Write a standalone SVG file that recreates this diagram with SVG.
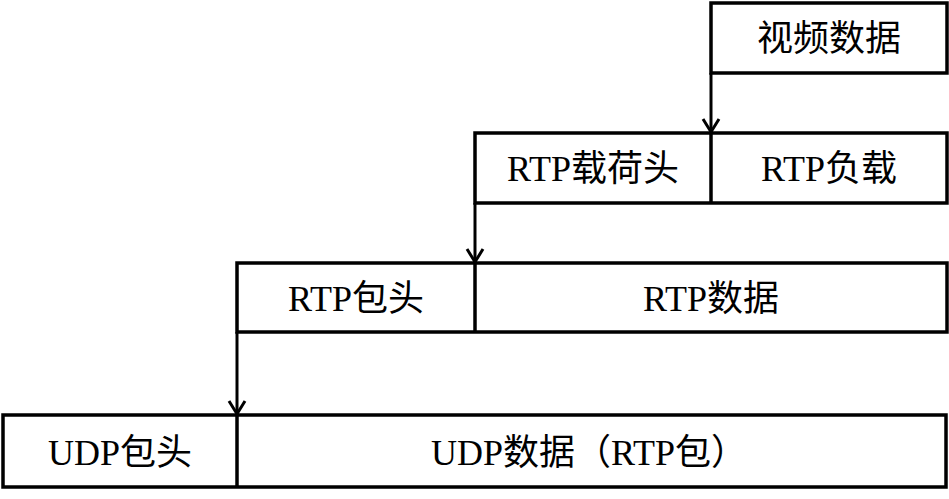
<svg xmlns="http://www.w3.org/2000/svg" width="949" height="499" viewBox="0 0 949 499">
<style>
.box{fill:#fff;stroke:#000;stroke-width:3.5}
.div{stroke:#000;stroke-width:3.5}
.t{font-family:"Liberation Serif","Noto Sans CJK SC",serif;font-size:36px;fill:#000;text-anchor:middle}
.c{stroke:#000;stroke-width:3;fill:none}
</style>
<defs>
<marker id="ah" markerUnits="userSpaceOnUse" markerWidth="20" markerHeight="20" refX="16" refY="10" orient="auto" viewBox="0 0 20 20">
<polyline points="3,2 16,10 3,18" fill="none" stroke="#000" stroke-width="3"/>
</marker>
</defs>
<g id="connectors">
<line class="c" x1="711" y1="73" x2="711" y2="132" marker-end="url(#ah)"/>
<line class="c" x1="475" y1="203" x2="475" y2="262" marker-end="url(#ah)"/>
<line class="c" x1="237" y1="332" x2="237" y2="414" marker-end="url(#ah)"/>
</g>
<g id="video">
<rect class="box" x="711" y="3" width="236" height="70"/>
<text class="t" x="829" y="51">视频数据</text>
</g>
<g id="rtp-payload-row">
<rect class="box" x="475" y="133" width="472" height="70"/>
<line class="div" x1="711" y1="133" x2="711" y2="203"/>
<text class="t" x="593" y="181">RTP载荷头</text>
<text class="t" x="829" y="181">RTP负载</text>
</g>
<g id="rtp-packet-row">
<rect class="box" x="237" y="263" width="710" height="69"/>
<line class="div" x1="475" y1="263" x2="475" y2="332"/>
<text class="t" x="356" y="311">RTP包头</text>
<text class="t" x="711" y="311">RTP数据</text>
</g>
<g id="udp-row">
<rect class="box" x="3" y="415" width="943" height="72"/>
<line class="div" x1="237" y1="415" x2="237" y2="487"/>
<text class="t" x="120" y="465">UDP包头</text>
<text class="t" x="589" y="465">UDP数据（RTP包）</text>
</g>
</svg>
